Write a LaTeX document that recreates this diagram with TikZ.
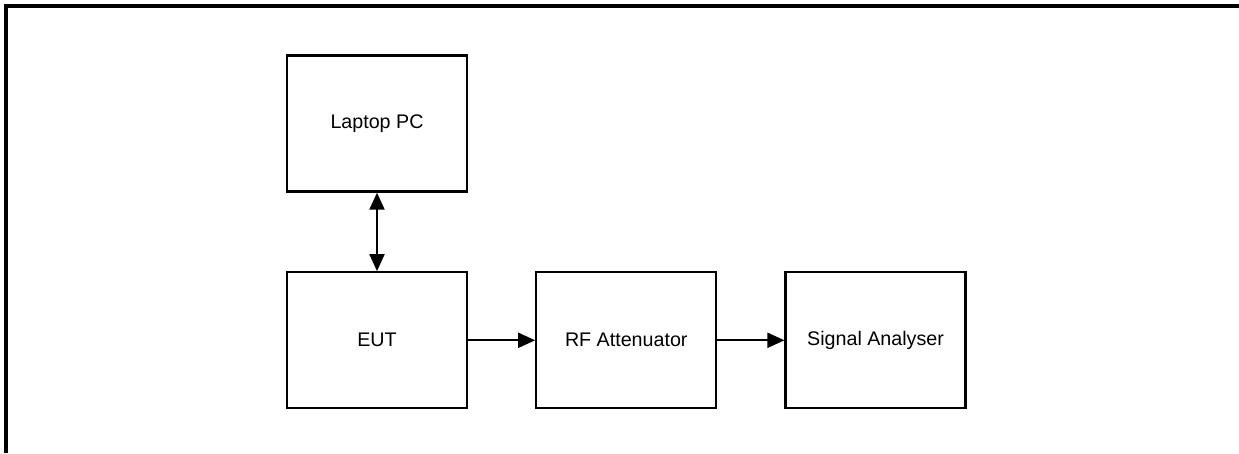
\documentclass[tikz,border=0pt]{standalone}
\usepackage{fontspec}
\setmainfont{Liberation Sans}
\usepackage{tikz}
\usetikzlibrary{positioning,arrows.meta}

\begin{document}
\begin{tikzpicture}[
    font=\fontsize{11.2}{13}\selectfont,
    >={Triangle[length=0.34cm, width=0.3cm]},
    block/.style={draw, line width=1.3pt, minimum width=3.6cm, minimum height=2.72cm},
    link/.style={line width=1.1pt, ->},
    node distance=1.57cm and 1.34cm
  ]
  \def\w{24.78}
  \def\h{9.06}
  \useasboundingbox (0,0) rectangle (\w, -\h);
  \draw[line width=0.08cm]
    (0.12, -\h) -- (0.12, -0.12) -- (\w, -0.12)
  ;
  \node[block] (pc) at (7.54, -2.47) {Laptop PC};
  \node[block, below=of pc] (eut) {EUT};
  \node[block, right=of eut] (att) {RF Attenuator};
  \node[block, right=of att] (sa) {Signal Analyser};
  \draw[link, <->] (pc) -- (eut);
  \draw[link] (eut) -- (att);
  \draw[link] (att) -- (sa);
\end{tikzpicture}
\end{document}
